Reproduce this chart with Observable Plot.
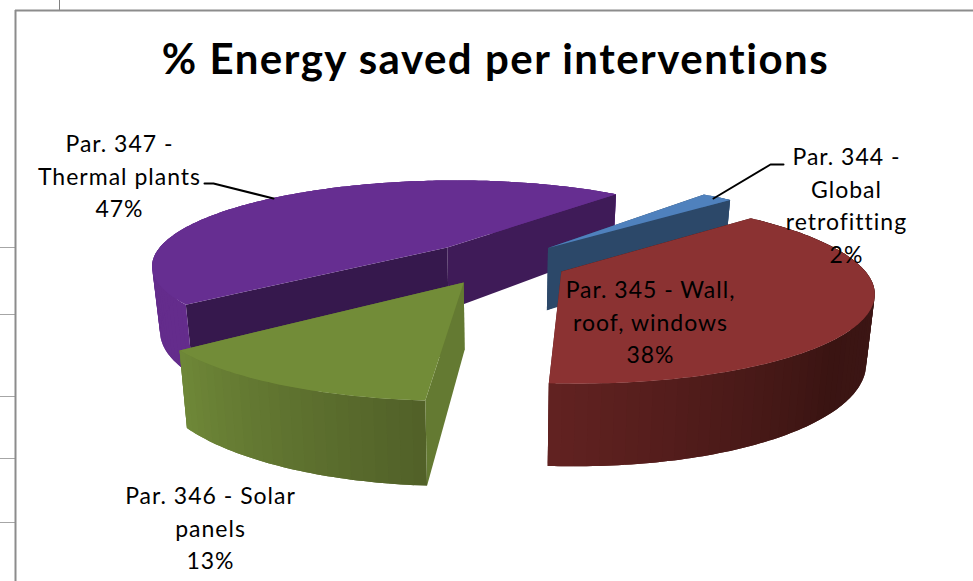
<!DOCTYPE html>
<html>
<head>
<meta charset="utf-8">
<style>
html,body{margin:0;padding:0;background:#fff;overflow:hidden}
svg{display:block}
.lbl{letter-spacing:1px}
.ttl{letter-spacing:1.5px}
</style>
<script src="https://cdn.jsdelivr.net/npm/d3@7"></script>
<script src="https://cdn.jsdelivr.net/npm/@observablehq/plot@0.6"></script>
</head>
<body>
<div id="chart"></div>
<script>
// ---- data ----
const categories = ["Par. 344 - Global retrofitting", "Par. 345 - Wall, roof, windows", "Par. 346 - Solar panels", "Par. 347 - Thermal plants"];
const values = [2, 38, 13, 47];
const labelLines = [
  "Par. 344 -\nGlobal\nretrofitting\n2%",
  "Par. 345 - Wall,\nroof, windows\n38%",
  "Par. 346 - Solar\npanels\n13%",
  "Par. 347 -\nThermal plants\n47%"
];
const chartTitle = "% Energy saved per interventions";

// ---- layout and style ----
const W = 973, H = 581;
const startAngle = 40.2;            // degrees clockwise from the far side
const explode = [[.165, -.21], [.2, .068], [-.118, .187], [-.185, -.216]];
const view = {cx: 500, cy: 265, horizon: -170, R: 300, p: .2, depth: 65, shrink: .977};
const topColors = ["#4f81bd", "#8b3232", "#728c38", "#662e91"];
const wallColors = [
  [[0, "#38608f"], [1, "#38608f"]],
  [[0, "#3c1615"], [.45, "#3c1615"], [.62, "#3a1412"], [1, "#622221"]],
  [[0, "#516028"], [1, "#6f8838"]],
  [[0, "#642c8c"], [1, "#642c8c"]]
];
const faceColors = [
  {start: "#2c4869", end: "#2c4869", endFirst: false},
  {start: "#3c1615", end: "#5f2120", endFirst: true},
  {start: "#647a32", end: "#647a32", endFirst: true},
  {start: "#36184d", end: "#3f1b58", endFirst: false}
];
const labelAnchors = [[846, 203], [650, 320], [210, 526], [119, 174]];
const leaderLines = [
  [[783, 164], [770, 164], [713, 198]],
  [[204, 183], [213, 183], [273, 198]]
];
const gridLeft = 15, gridTop = 10;
const gridStubs = [247, 314, 396, 458, 522];
const fontFamily = "Lato, 'Open Sans', sans-serif";

// ---- geometry from the values ----
const rad = d => d * Math.PI / 180;
function project(u, v, low) {
  const s = 1 / (1 - view.p * v);
  const D = view.cy - view.horizon;
  let x = view.cx + view.R * u * s;
  let y = view.horizon + D * s;
  if (low) {
    x = view.cx + (x - view.cx) * view.shrink;
    y += view.depth * s;
  }
  return [x, y];
}
const edges = [startAngle, ...Array.from(d3.cumsum(values), c => startAngle + c * 3.6)];
const polys = [];
let pid = 0;
function addPoly(points, fill) {
  const id = pid++;
  for (const [x, y] of points) polys.push({id, x, y, fill});
}
function shade(stops, t) {
  for (let i = 1; i < stops.length; i++) {
    if (t <= stops[i][0]) {
      return d3.interpolateRgb(stops[i - 1][1], stops[i][1])((t - stops[i - 1][0]) / (stops[i][0] - stops[i - 1][0]));
    }
  }
  return stops[stops.length - 1][1];
}
// painter's order: purple, blue, red, green
for (const i of [3, 0, 1, 2]) {
  const [ou, ov] = explode[i];
  const a0 = edges[i], a1 = edges[i + 1];
  const rim = (a, low) => project(ou + Math.sin(rad(a)), ov - Math.cos(rad(a)), low);
  const apex = low => project(ou, ov, low);
  const face = (a, fill) => addPoly([apex(false), rim(a, false), rim(a, true), apex(true)], fill);
  const fc = faceColors[i];
  if (fc.endFirst) face(a1, fc.end); else face(a0, fc.start);
  // outer wall in strips; each strip runs under the next so no seams show
  const n = Math.max(2, Math.ceil((a1 - a0) / 2));
  const step = (a1 - a0) / n;
  for (let k = 0; k < n; k++) {
    const b0 = a0 + step * k, b1 = Math.min(a1, a0 + step * (k + 2));
    const arc = d3.range(0, 5).map(j => b0 + (b1 - b0) * j / 4);
    addPoly([...arc.map(a => rim(a, false)), ...arc.reverse().map(a => rim(a, true))], shade(wallColors[i], (k + .5) / n));
  }
  if (fc.endFirst) face(a0, fc.start); else face(a1, fc.end);
  const top = [apex(false)];
  for (let k = 0; k <= n * 2; k++) top.push(rim(a0 + (a1 - a0) * k / (n * 2), false));
  addPoly(top, topColors[i]);
}
const labels = labelLines.map((text, i) => ({text, x: labelAnchors[i][0], y: labelAnchors[i][1]}));
const leaders = leaderLines.flatMap((pts, id) => pts.map(([x, y]) => ({id, x, y})));

const plot = Plot.plot({
  width: W, height: H,
  margin: 0,
  x: {domain: [0, W], range: [0, W], axis: null},
  y: {domain: [0, H], range: [0, H], axis: null},
  color: {type: "identity"},
  style: {background: "#fff"},
  marks: [
    Plot.ruleY(gridStubs, {x1: 0, x2: gridLeft, stroke: "#a6a6a6", strokeWidth: 1}),
    Plot.ruleX([59], {y1: 0, y2: gridTop, stroke: "#808080", strokeWidth: 1}),
    Plot.ruleY([gridTop], {x1: gridLeft, x2: W, stroke: "#8c8c8c", strokeWidth: 2}),
    Plot.ruleX([gridLeft], {y1: gridTop, y2: H, stroke: "#8c8c8c", strokeWidth: 2}),
    Plot.line(polys, {x: "x", y: "y", z: "id", fill: "fill", stroke: "none", curve: "linear"}),
    Plot.line(leaders, {x: "x", y: "y", z: "id", stroke: "#000", strokeWidth: 2, curve: "linear"}),
    Plot.text(labels, {x: "x", y: "y", text: "text", fontSize: 23, lineHeight: 1.41, fill: "#000", textAnchor: "middle", fontFamily, className: "lbl"}),
    Plot.text([chartTitle], {x: () => 495, y: () => 60, text: d => d, fontSize: 42, fontWeight: 700, fill: "#000", textAnchor: "middle", fontFamily, className: "ttl"})
  ]
});
document.getElementById("chart").appendChild(plot);
</script>
</body>
</html>
